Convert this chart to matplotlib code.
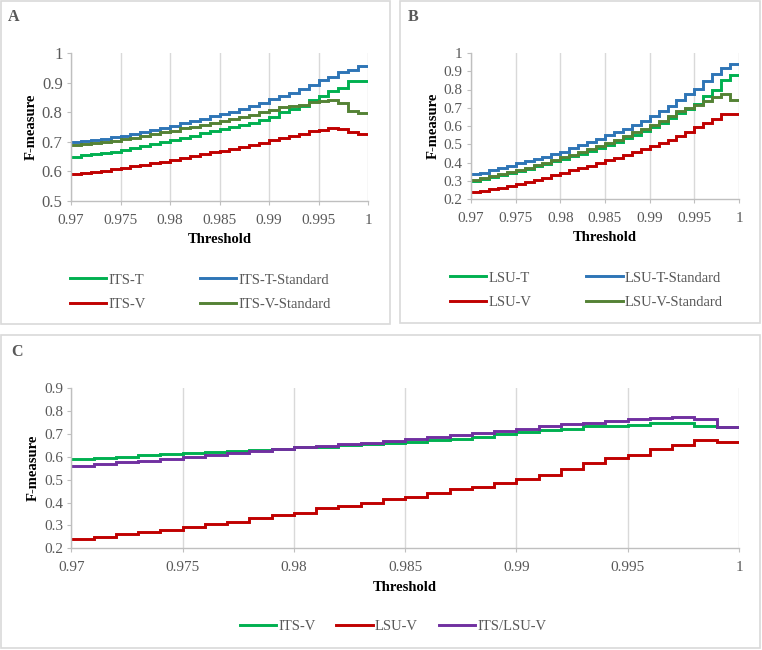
import numpy as np
import matplotlib
matplotlib.use("Agg")
import matplotlib.pyplot as plt
from matplotlib.patches import Rectangle
from matplotlib.ticker import FuncFormatter

plt.rcParams["font.family"] = ["Liberation Serif", "DejaVu Serif"]

# ============================================
# Dados (F-measure por threshold, passo 0.001)
# ============================================

thresholds = [0.970, 0.971, 0.972, 0.973, 0.974, 0.975, 0.976, 0.977, 0.978, 0.979,
              0.980, 0.981, 0.982, 0.983, 0.984, 0.985, 0.986, 0.987, 0.988, 0.989,
              0.990, 0.991, 0.992, 0.993, 0.994, 0.995, 0.996, 0.997, 0.998, 0.999]
x_end = 1.0
x_ticks = [0.97, 0.975, 0.98, 0.985, 0.99, 0.995, 1.0]

# Painel A
its_t = [0.650, 0.654, 0.658, 0.662, 0.666, 0.671, 0.678, 0.685, 0.692, 0.699,
         0.707, 0.714, 0.721, 0.729, 0.736, 0.744, 0.750, 0.757, 0.765, 0.773,
         0.785, 0.800, 0.812, 0.822, 0.842, 0.855, 0.872, 0.882, 0.904, 0.906]
its_t_std = [0.700, 0.704, 0.707, 0.711, 0.715, 0.719, 0.726, 0.733, 0.740, 0.746,
             0.755, 0.762, 0.770, 0.778, 0.786, 0.794, 0.802, 0.810, 0.820, 0.832,
             0.845, 0.856, 0.866, 0.877, 0.892, 0.910, 0.918, 0.935, 0.943, 0.955]
its_v = [0.590, 0.594, 0.599, 0.603, 0.607, 0.612, 0.617, 0.622, 0.627, 0.632,
         0.638, 0.645, 0.652, 0.658, 0.664, 0.670, 0.677, 0.684, 0.690, 0.697,
         0.705, 0.713, 0.719, 0.727, 0.735, 0.740, 0.746, 0.742, 0.732, 0.727]
its_v_std = [0.690, 0.693, 0.697, 0.700, 0.704, 0.708, 0.714, 0.720, 0.726, 0.732,
             0.738, 0.745, 0.751, 0.757, 0.764, 0.771, 0.778, 0.785, 0.792, 0.799,
             0.808, 0.816, 0.821, 0.826, 0.834, 0.838, 0.840, 0.831, 0.805, 0.797]

# Painel B
lsu_t = [0.300, 0.310, 0.322, 0.333, 0.344, 0.355, 0.367, 0.380, 0.393, 0.406,
         0.420, 0.434, 0.449, 0.465, 0.482, 0.498, 0.515, 0.533, 0.552, 0.572,
         0.595, 0.618, 0.643, 0.670, 0.695, 0.718, 0.765, 0.800, 0.850, 0.882]
lsu_t_std = [0.335, 0.345, 0.357, 0.370, 0.382, 0.395, 0.407, 0.420, 0.432, 0.445,
             0.460, 0.478, 0.495, 0.512, 0.530, 0.548, 0.565, 0.585, 0.605, 0.628,
             0.655, 0.680, 0.710, 0.740, 0.775, 0.805, 0.848, 0.885, 0.920, 0.940]
lsu_v = [0.237, 0.245, 0.254, 0.263, 0.272, 0.282, 0.293, 0.305, 0.317, 0.330,
         0.345, 0.357, 0.370, 0.383, 0.397, 0.412, 0.427, 0.443, 0.458, 0.473,
         0.490, 0.508, 0.525, 0.545, 0.568, 0.592, 0.617, 0.640, 0.668, 0.665]
lsu_v_std = [0.305, 0.315, 0.326, 0.337, 0.348, 0.360, 0.372, 0.385, 0.398, 0.412,
             0.428, 0.443, 0.458, 0.474, 0.490, 0.508, 0.526, 0.545, 0.565, 0.585,
             0.605, 0.630, 0.655, 0.680, 0.700, 0.715, 0.735, 0.758, 0.775, 0.745]

# Painel C
c_its_v = [0.591, 0.596, 0.600, 0.606, 0.611, 0.616, 0.621, 0.626, 0.631, 0.636,
           0.641, 0.645, 0.650, 0.655, 0.660, 0.666, 0.672, 0.678, 0.688, 0.698,
           0.708, 0.716, 0.720, 0.734, 0.737, 0.740, 0.748, 0.747, 0.733, 0.729]
c_lsu_v = [0.240, 0.251, 0.263, 0.270, 0.280, 0.294, 0.305, 0.317, 0.331, 0.346,
           0.356, 0.375, 0.385, 0.397, 0.415, 0.426, 0.441, 0.458, 0.470, 0.487,
           0.505, 0.521, 0.546, 0.572, 0.594, 0.608, 0.635, 0.652, 0.674, 0.667]
c_its_lsu_v = [0.562, 0.568, 0.576, 0.584, 0.592, 0.601, 0.609, 0.617, 0.625, 0.633,
               0.641, 0.648, 0.655, 0.661, 0.668, 0.677, 0.685, 0.694, 0.703, 0.713,
               0.723, 0.733, 0.742, 0.750, 0.758, 0.766, 0.772, 0.775, 0.765, 0.730]

VERDE = "#00B050"
AZUL = "#2E75B6"
VERMELHO = "#C00000"
OLIVA = "#548235"
ROXO = "#7030A0"
CINZA = "#595959"
GRADE = "#D9D9D9"

W, H = 762, 650


def fx(px):
    return px / W


def fy(py):
    return 1 - py / H


def desenha(ax, series, ymin, ymax, ystep, ysize=11):
    xs = thresholds + [x_end]
    for vals, cor, nome in series:
        ax.plot(xs, vals + [vals[-1]], drawstyle="steps-post", color=cor,
                lw=2.1, label=nome, solid_joinstyle="miter")
    ax.set_xlim(0.97, 1.0)
    ax.set_ylim(ymin, ymax)
    ax.set_xticks(x_ticks)
    ax.set_yticks(np.round(np.arange(ymin, ymax + 1e-9, ystep), 2))
    fmt = FuncFormatter(lambda v, p: f"{v:g}")
    ax.xaxis.set_major_formatter(fmt)
    ax.yaxis.set_major_formatter(fmt)
    ax.grid(axis="x", color=GRADE, lw=1)
    ax.set_axisbelow(True)
    for s in ["top", "right"]:
        ax.spines[s].set_visible(False)
    for s in ["left", "bottom"]:
        ax.spines[s].set_color("#BFBFBF")
        ax.spines[s].set_linewidth(1)
    ax.tick_params(axis="both", colors="#BFBFBF", labelcolor=CINZA,
                   labelsize=11, length=3, direction="out")
    ax.tick_params(axis="x", pad=6)
    ax.tick_params(axis="y", pad=3, labelsize=ysize)
    ax.set_xlabel("Threshold", fontsize=10.5, fontweight="bold", labelpad=5)
    ax.set_ylabel("F-measure", fontsize=10.5, fontweight="bold", labelpad=3)


def legenda_linhas(ax, x0, y0, espaco):
    # ordem por linhas, como no original (2 colunas)
    h, l = ax.get_legend_handles_labels()
    ordem = [0, 2, 1, 3]
    ax.legend([h[i] for i in ordem], [l[i] for i in ordem],
              loc="center left", bbox_to_anchor=(fx(x0), fy(y0)),
              bbox_transform=fig.transFigure, ncol=2, frameon=False,
              fontsize=10.5, labelcolor=CINZA, handlelength=2.5,
              handletextpad=0.15, columnspacing=espaco, labelspacing=0.75,
              borderpad=0, borderaxespad=0)


fig = plt.figure(figsize=(W / 100, H / 100), dpi=100)

# Caixas dos painéis
for (x0, y0, x1, y1) in [(1, 1, 390, 324), (400, 1, 760, 323), (1, 335, 760, 648)]:
    fig.add_artist(Rectangle((fx(x0), fy(y1)), fx(x1) - fx(x0), fy(y0) - fy(y1),
                             transform=fig.transFigure, fill=False,
                             edgecolor=GRADE, lw=1.2))

# Gráfico A
axA = fig.add_axes([fx(71), fy(201), fx(368) - fx(71), fy(53) - fy(201)])
desenha(axA, [(its_t, VERDE, "ITS-T"), (its_t_std, AZUL, "ITS-T-Standard"),
              (its_v, VERMELHO, "ITS-V"), (its_v_std, OLIVA, "ITS-V-Standard")],
        0.5, 1.0, 0.1, ysize=12)
legenda_linhas(axA, 70, 292, 3.7)

# Gráfico B
axB = fig.add_axes([fx(471), fy(199), fx(739) - fx(471), fy(53) - fy(199)])
desenha(axB, [(lsu_t, VERDE, "LSU-T"), (lsu_t_std, AZUL, "LSU-T-Standard"),
              (lsu_v, VERMELHO, "LSU-V"), (lsu_v_std, OLIVA, "LSU-V-Standard")],
        0.2, 1.0, 0.1)
legenda_linhas(axB, 450, 290, 3.75)

# Gráfico C
axC = fig.add_axes([fx(71.3), fy(548.3), fx(739) - fx(71.3), fy(388.3) - fy(548.3)])
desenha(axC, [(c_its_v, VERDE, "ITS-V"), (c_lsu_v, VERMELHO, "LSU-V"),
              (c_its_lsu_v, ROXO, "ITS/LSU-V")],
        0.2, 0.9, 0.1)
axC.legend(loc="center left", bbox_to_anchor=(fx(240), fy(626)),
           bbox_transform=fig.transFigure, ncol=3, frameon=False,
           fontsize=10.5, labelcolor=CINZA, handlelength=2.5, handletextpad=0.15,
           columnspacing=1.4, borderpad=0, borderaxespad=0)

# Letras dos painéis
for letra, px, py in [("A", 8, 17), ("B", 408, 17), ("C", 11, 352)]:
    fig.text(fx(px), fy(py), letra, fontsize=11.5, fontweight="bold",
             color=CINZA, va="center", ha="left")

fig.savefig("out.png", dpi=100)
